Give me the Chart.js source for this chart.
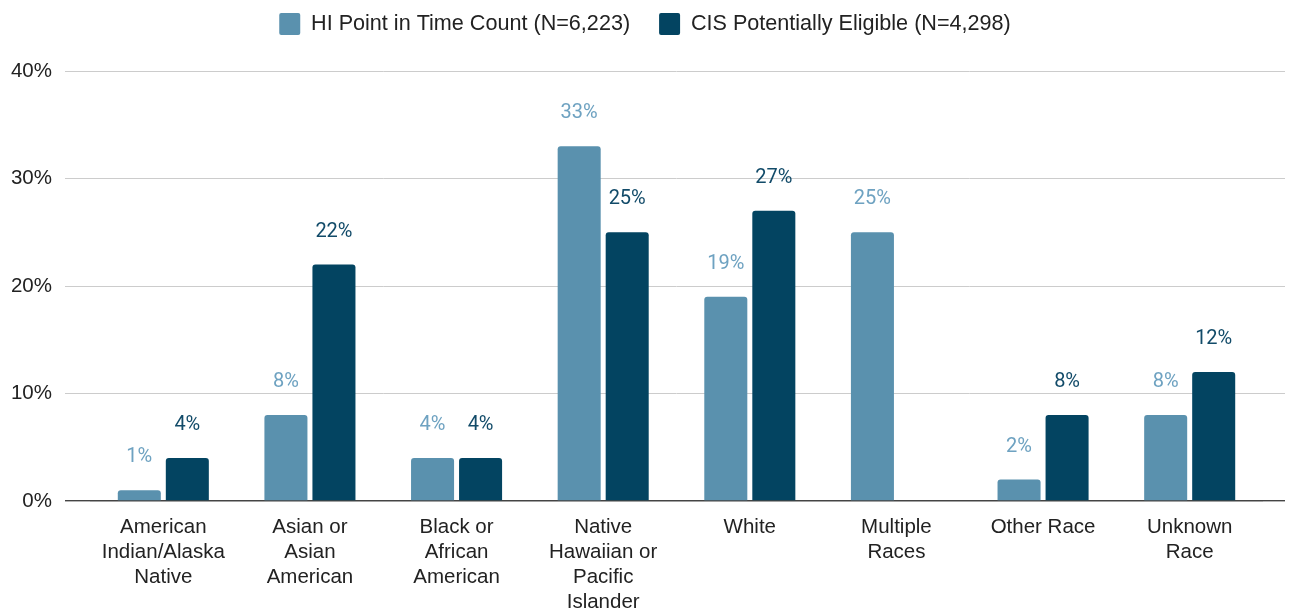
<!DOCTYPE html>
<html>
<head>
<meta charset="utf-8">
<script src="https://cdn.jsdelivr.net/npm/chart.js@4.4.1/dist/chart.umd.min.js"></script>
<style>
  html, body { margin: 0; padding: 0; background: #ffffff; }
  #wrap { width: 1290px; height: 609px; }
</style>
</head>
<body>
<div id="wrap"><canvas id="chart" width="1290" height="609"></canvas></div>
<script>
// Race categories (multi-line axis labels)
const categories = [
  ['American', 'Indian/Alaska', 'Native'],
  ['Asian or', 'Asian', 'American'],
  ['Black or', 'African', 'American'],
  ['Native', 'Hawaiian or', 'Pacific', 'Islander'],
  ['White'],
  ['Multiple', 'Races'],
  ['Other Race'],
  ['Unknown', 'Race']
];

// Share of each population, in percent
const pitCount = [1, 8, 4, 33, 19, 25, 2, 8];
const cisEligible = [4, 22, 4, 25, 27, null, 8, 12];

const seriesNames = ['HI Point in Time Count (N=6,223)', 'CIS Potentially Eligible (N=4,298)'];
const yTicks = [0, 10, 20, 30, 40];

const barColors = ['#5a91ae', '#034461'];
const valueLabelColors = ['#6ea2c1', '#124b69'];

// Prints each bar's value above it
const valueLabels = {
  id: 'valueLabels',
  afterDatasetsDraw(chart) {
    const ctx = chart.ctx;
    ctx.save();
    ctx.font = '20px Roboto';
    ctx.textAlign = 'center';
    ctx.textBaseline = 'alphabetic';
    chart.data.datasets.forEach((ds, i) => {
      const meta = chart.getDatasetMeta(i);
      ctx.fillStyle = valueLabelColors[i];
      meta.data.forEach((bar, j) => {
        const v = ds.data[j];
        if (v === null || v === undefined) return;
        ctx.fillText(v + '%', bar.x, bar.y - 28);
      });
    });
    ctx.restore();
  }
};

const gridColor = (c) => (c.tick && c.tick.value === 0 ? '#444444' : '#cccccc');
const gridWidth = (c) => (c.tick && c.tick.value === 0 ? 1.4 : 1);

new Chart(document.getElementById('chart'), {
  type: 'bar',
  data: {
    labels: categories,
    datasets: [
      {
        label: seriesNames[0],
        data: pitCount,
        backgroundColor: barColors[0],
        borderRadius: 3,
        categoryPercentage: 0.655,
        barPercentage: 0.896
      },
      {
        label: seriesNames[1],
        data: cisEligible,
        backgroundColor: barColors[1],
        borderRadius: 3,
        categoryPercentage: 0.655,
        barPercentage: 0.896
      }
    ]
  },
  options: {
    responsive: false,
    animation: false,
    layout: { padding: { top: -16, left: 0, right: 0, bottom: 0 } },
    plugins: {
      legend: {
        position: 'top',
        labels: {
          boxWidth: 21,
          boxHeight: 22,
          padding: 29,
          useBorderRadius: true,
          borderRadius: 2,
          color: '#222222',
          font: { family: '"Liberation Sans", Arial, sans-serif', size: 21.6 }
        }
      },
      tooltip: { enabled: false }
    },
    scales: {
      x: {
        position: 'bottom',
        grid: { display: false, drawTicks: false },
        border: { display: false },
        ticks: {
          color: '#222222',
          padding: 14,
          maxRotation: 0,
          autoSkip: false,
          font: { family: '"Liberation Sans", Arial, sans-serif', size: 20.5, lineHeight: 1.22 }
        },
        afterFit(s) { s.height = 108; }
      },
      xTop: {
        type: 'category',
        position: 'top',
        labels: categories,
        grid: { display: false, drawTicks: false },
        border: { display: false },
        ticks: { display: false },
        afterFit(s) { s.height = 26; }
      },
      y: {
        position: 'left',
        min: 0,
        max: 40,
        afterBuildTicks(s) { s.ticks = yTicks.map(v => ({ value: v })); },
        grid: { color: gridColor, tickColor: gridColor, lineWidth: gridWidth, tickLength: 25 },
        border: { display: false },
        ticks: {
          color: '#222222',
          padding: 13,
          font: { family: '"Liberation Sans", Arial, sans-serif', size: 20.5 },
          callback: (v) => v + '%'
        },
        afterFit(s) { s.width = 90; }
      },
      yRight: {
        position: 'right',
        min: 0,
        max: 40,
        afterBuildTicks(s) { s.ticks = yTicks.map(v => ({ value: v })); },
        grid: { drawOnChartArea: false, color: gridColor, tickColor: gridColor, lineWidth: gridWidth, tickLength: 22 },
        border: { display: false },
        ticks: { display: false },
        afterFit(s) { s.width = 27; }
      }
    }
  },
  plugins: [valueLabels]
});
</script>
</body>
</html>
